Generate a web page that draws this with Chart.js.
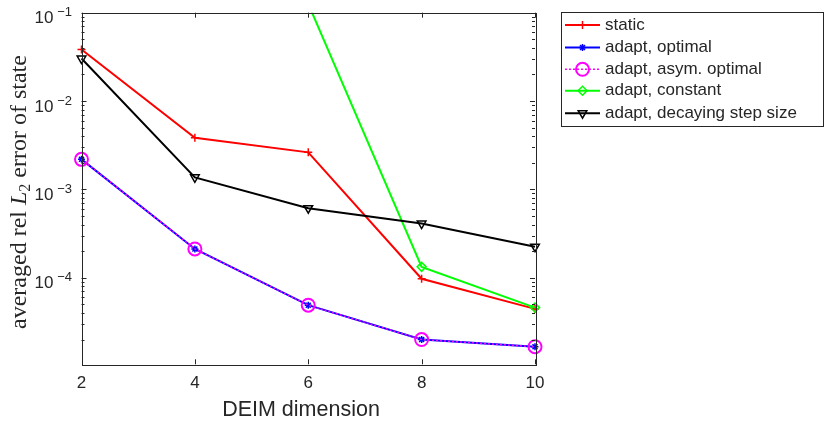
<!DOCTYPE html>
<html>
<head>
<meta charset="utf-8">
<script src="https://cdn.jsdelivr.net/npm/chart.js"></script>
<style>
  html, body { margin: 0; padding: 0; background: #fff; }
  #wrap { width: 825px; height: 423px; position: relative; }
</style>
</head>
<body>
<div id="wrap"><canvas id="c"></canvas></div>
<script>
// valeurs
const dims = [2, 4, 6, 8, 10];
const staticErr = [0.0384, 0.00384, 0.00263, 9.75e-5, 4.45e-5];
const optimalErr = [0.00219, 2.12e-4, 4.9e-5, 2.0e-5, 1.66e-5];
const asymErr = [0.00219, 2.12e-4, 4.9e-5, 2.0e-5, 1.66e-5];
const constantErr = [null, null, 0.126, 1.33e-4, 4.6e-5];
const decayErr = [0.0303, 0.00137, 6.14e-4, 4.11e-4, 2.25e-4];

const seriesNames = ['static', 'adapt, optimal', 'adapt, asym. optimal', 'adapt, constant', 'adapt, decaying step size'];
const xTicks = [2, 4, 6, 8, 10];
const yDecades = [-5, -4, -3, -2, -1];
const yMin = 1.05e-5, yMax = 1e-1;

const AX = '#262626';
const SANS = "'Liberation Sans', Arial, sans-serif";
const SERIF = "'Liberation Serif', 'Times New Roman', serif";

const styles = [
  { color: '#ff0000', width: 2, dash: [], point: 'cross', radius: 4, pw: 1.5, rot: 0 },
  { color: '#0000ff', width: 2, dash: [], point: 'star', radius: 3.5, pw: 1.5, rot: 0 },
  { color: '#ff00ff', width: 1.5, dash: [2, 2], point: 'circle', radius: 6.5, pw: 2, rot: 0 },
  { color: '#00ff00', width: 2, dash: [], point: 'rectRot', radius: 4.5, pw: 1.5, rot: 0 },
  { color: '#000000', width: 2, dash: [], point: 'triangle', radius: 5, pw: 1.5, rot: 180 }
];
const values = [staticErr, optimalErr, asymErr, constantErr, decayErr];

const datasets = values.map((vals, i) => {
  const s = styles[i];
  return {
    label: seriesNames[i],
    data: dims.map((d, k) => ({ x: d, y: vals[k] })),
    borderColor: s.color,
    borderWidth: s.width,
    borderDash: s.dash,
    backgroundColor: 'transparent',
    pointStyle: s.point,
    pointRadius: s.radius,
    pointBorderWidth: s.pw,
    pointBorderColor: s.color,
    pointBackgroundColor: 'transparent',
    pointRotation: s.rot,
    tension: 0,
    spanGaps: false,
    order: 5 - i,
    clip: { left: 12, right: 12, bottom: 12, top: 0 }
  };
});

function drawMarker(ctx, s, x, y) {
  ctx.save();
  ctx.setLineDash([]);
  ctx.strokeStyle = s.color;
  ctx.fillStyle = 'transparent';
  ctx.lineWidth = s.pw;
  Chart.helpers.drawPoint(ctx, { pointStyle: s.point, rotation: s.rot, radius: s.radius, borderWidth: s.pw }, x, y);
  ctx.restore();
}

// axes façon MATLAB : cadre, graduations intérieures, étiquettes, légende
const matlabAxes = {
  id: 'matlabAxes',
  afterDatasetsDraw(chart) {
    const ctx = chart.ctx;
    const a = chart.chartArea;
    const xs = chart.scales.x, ys = chart.scales.y;
    ctx.save();
    ctx.strokeStyle = AX;
    ctx.lineWidth = 1;
    ctx.beginPath();
    // graduations x
    xTicks.forEach(t => {
      const px = Math.round(xs.getPixelForValue(t)) + 0.5;
      ctx.moveTo(px, a.bottom); ctx.lineTo(px, a.bottom - 5);
      ctx.moveTo(px, a.top); ctx.lineTo(px, a.top + 5);
    });
    // graduations y (majeures + mineures)
    yDecades.forEach(e => {
      for (let m = 1; m <= 9; m++) {
        const v = m * Math.pow(10, e);
        if (v < yMin || v > yMax * 1.0001) continue;
        const py = Math.round(ys.getPixelForValue(v)) + 0.5;
        const len = m === 1 ? 5 : 3;
        ctx.moveTo(a.left, py); ctx.lineTo(a.left + len, py);
        ctx.moveTo(a.right, py); ctx.lineTo(a.right - len, py);
      }
    });
    ctx.stroke();
    ctx.strokeRect(Math.round(a.left) + 0.5, Math.round(a.top) + 0.5,
      Math.round(a.right - a.left), Math.round(a.bottom - a.top));

    // étiquettes x
    ctx.fillStyle = AX;
    ctx.font = '17px ' + SANS;
    ctx.textAlign = 'center';
    ctx.textBaseline = 'middle';
    xTicks.forEach(t => ctx.fillText(String(t), xs.getPixelForValue(t), 383));

    // étiquettes y : 10^e
    yDecades.forEach(e => {
      const v = Math.pow(10, e);
      if (v < yMin) return;
      const py = ys.getPixelForValue(v);
      ctx.textAlign = 'right';
      ctx.font = '17px ' + SANS;
      ctx.fillText('10', 53.5, py + 6);
      ctx.font = '13px ' + SANS;
      ctx.fillText('\u2212' + Math.abs(e), 72, py);
    });

    // titre x
    ctx.font = '21.5px ' + SANS;
    ctx.textAlign = 'center';
    ctx.textBaseline = 'alphabetic';
    ctx.fillText('DEIM dimension', 301, 415.7);

    // titre y (style LaTeX)
    ctx.save();
    ctx.translate(26, 192);
    ctx.rotate(-Math.PI / 2);
    const parts = [
      { t: 'averaged rel ', f: '24px ' + SERIF, dy: 0 },
      { t: 'L', f: 'italic 24px ' + SERIF, dy: 0 },
      { t: '2', f: '16px ' + SERIF, dy: 4 },
      { t: ' error of state', f: '24px ' + SERIF, dy: 0 }
    ];
    let total = 0;
    parts.forEach(p => { ctx.font = p.f; p.w = ctx.measureText(p.t).width; total += p.w; });
    let x0 = -total / 2;
    ctx.textAlign = 'left';
    parts.forEach(p => { ctx.font = p.f; ctx.fillText(p.t, x0, p.dy); x0 += p.w; });
    ctx.restore();

    // légende
    const lx = 561.5, ly = 12.5, lw = 262, lh = 114;
    ctx.fillStyle = '#fff';
    ctx.fillRect(lx, ly, lw, lh);
    ctx.strokeStyle = AX;
    ctx.lineWidth = 1;
    ctx.strokeRect(lx, ly, lw, lh);
    const rows = [25, 47.5, 69.3, 90.8, 113.2];
    seriesNames.forEach((name, i) => {
      const s = styles[i];
      const y = rows[i];
      ctx.save();
      ctx.strokeStyle = s.color;
      ctx.lineWidth = s.width;
      ctx.setLineDash(s.dash);
      ctx.beginPath();
      ctx.moveTo(565, y); ctx.lineTo(600, y);
      ctx.stroke();
      ctx.restore();
      drawMarker(ctx, s, 582.5, y);
      ctx.fillStyle = AX;
      ctx.font = '17px ' + SANS;
      ctx.textAlign = 'left';
      ctx.textBaseline = 'middle';
      ctx.fillText(name, 605, y);
    });
    ctx.restore();
  }
};

new Chart(document.getElementById('c'), {
  type: 'line',
  data: { datasets: datasets },
  options: {
    responsive: true,
    maintainAspectRatio: false,
    animation: false,
    layout: { padding: { left: 81.5, right: 290, top: 12.7, bottom: 58.7 } },
    plugins: { legend: { display: false }, tooltip: { enabled: false } },
    scales: {
      x: {
        type: 'linear', min: 2, max: 10, offset: false,
        grid: { display: false }, border: { display: false },
        ticks: { display: false },
        afterFit(s) { s.height = 0; }
      },
      y: {
        type: 'logarithmic', min: yMin, max: yMax,
        grid: { display: false }, border: { display: false },
        ticks: { display: false },
        afterFit(s) { s.width = 0; }
      }
    }
  },
  plugins: [matlabAxes]
});
</script>
</body>
</html>
